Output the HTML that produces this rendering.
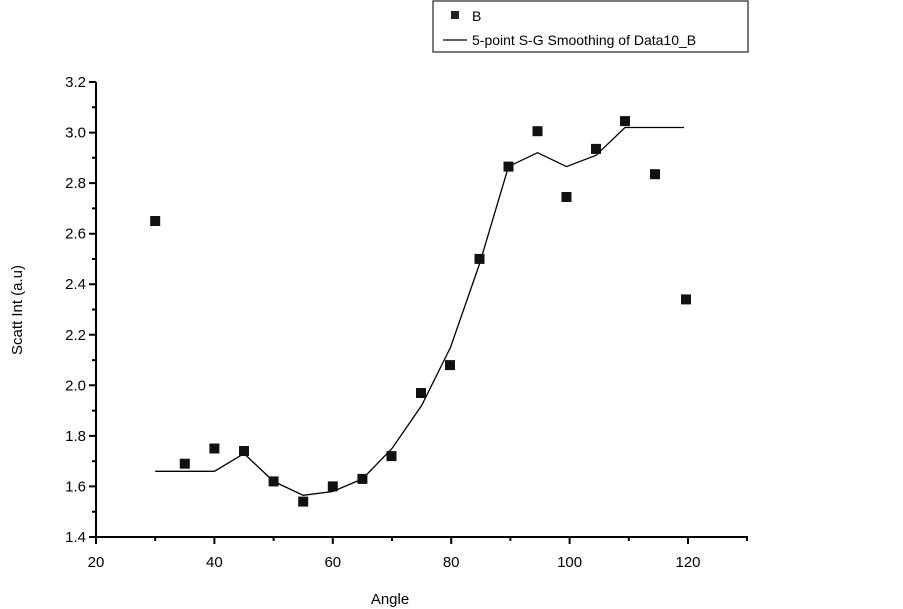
<!DOCTYPE html>
<html><head><meta charset="utf-8"><style>body{margin:0;background:#fff}svg{display:block}text{font-family:"Liberation Sans",Arial,sans-serif;fill:#000}</style></head><body>
<svg width="903" height="609" viewBox="0 0 903 609">
<rect x="433" y="1" width="315" height="51" fill="#fff" stroke="#333" stroke-width="1.3"/>
<rect x="451" y="11" width="8" height="8" fill="#222"/>
<text x="472" y="21" font-size="14">B</text>
<line x1="443" y1="40" x2="467" y2="40" stroke="#000" stroke-width="1.2"/>
<text x="472" y="45" font-size="14">5-point S-G Smoothing of Data10_B</text>
<g stroke="#000" stroke-width="2" fill="none">
<line x1="96" y1="82" x2="96" y2="538"/>
<line x1="95" y1="537" x2="748" y2="537"/>
<path d="M89 82H96M89 132.6H96M89 183.1H96M89 233.7H96M89 284.2H96M89 334.8H96M89 385.3H96M89 435.9H96M89 486.4H96M89 537H96"/>
<path d="M92 107.3H96M92 157.8H96M92 208.4H96M92 259H96M92 309.5H96M92 360.1H96M92 410.6H96M92 461.2H96M92 511.7H96"/>
<path d="M96 537V544M214.4 537V544M332.8 537V544M451.2 537V544M569.6 537V544M688 537V544"/>
<path d="M155.2 537V541M273.6 537V541M392 537V541M510.4 537V541M628.8 537V541M747 537V541"/>
</g>
<g font-size="15" text-anchor="end">
<text x="86" y="87">3.2</text><text x="86" y="137.6">3.0</text><text x="86" y="188.1">2.8</text><text x="86" y="238.7">2.6</text><text x="86" y="289.2">2.4</text><text x="86" y="339.8">2.2</text><text x="86" y="390.3">2.0</text><text x="86" y="440.9">1.8</text><text x="86" y="491.4">1.6</text><text x="86" y="542">1.4</text>
</g>
<g font-size="15" text-anchor="middle">
<text x="96" y="567">20</text><text x="214.4" y="567">40</text><text x="332.8" y="567">60</text><text x="451.2" y="567">80</text><text x="569.6" y="567">100</text><text x="688" y="567">120</text>
<text x="390" y="604">Angle</text>
<text transform="translate(22 310) rotate(-90)">Scatt Int (a.u)</text>
</g>
<polyline fill="none" stroke="#000" stroke-width="1.3" points="155.2,471.3 184.8,471.3 214.4,471.3 244,453.6 273.6,481.4 303.2,495.3 332.8,491.5 362.4,478.9 392,448.5 421.6,405.5 450.5,347.4 479.5,264 508.5,166.6 537.5,152.7 566.5,166.6 596,155.3 625,127.5 655,127.5 684,127.5"/>
<g fill="#111">
<rect x="150.2" y="216" width="10" height="10"/><rect x="179.8" y="458.7" width="10" height="10"/><rect x="209.4" y="443.5" width="10" height="10"/><rect x="239" y="446" width="10" height="10"/><rect x="268.6" y="476.4" width="10" height="10"/><rect x="298.2" y="496.6" width="10" height="10"/><rect x="327.8" y="481.4" width="10" height="10"/><rect x="357.4" y="473.9" width="10" height="10"/><rect x="386.5" y="451.1" width="10" height="10"/><rect x="416" y="388" width="10" height="10"/><rect x="445" y="360.1" width="10" height="10"/><rect x="474.5" y="253.9" width="10" height="10"/><rect x="503.5" y="161.6" width="10" height="10"/><rect x="532.5" y="126.2" width="10" height="10"/><rect x="561.5" y="192" width="10" height="10"/><rect x="591" y="143.9" width="10" height="10"/><rect x="620" y="116.1" width="10" height="10"/><rect x="650" y="169.2" width="10" height="10"/><rect x="681" y="294.4" width="10" height="10"/>
</g>
</svg>
</body></html>
